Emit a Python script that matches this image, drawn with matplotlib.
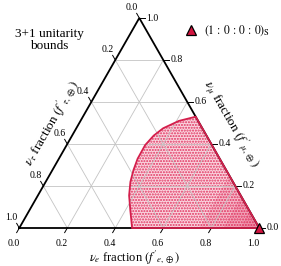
import numpy as np
import matplotlib.pyplot as plt
from matplotlib.patches import Polygon
from matplotlib.lines import Line2D

plt.rcParams['font.family'] = 'serif'
plt.rcParams['font.serif'] = ['Liberation Serif', 'DejaVu Serif']
plt.rcParams['mathtext.fontset'] = 'stix'
plt.rcParams['hatch.linewidth'] = 1.0

# left boundary of the 3+1 unitarity region, (nu_e, nu_mu) fractions
bound_e = [0.47, 0.42, 0.38, 0.353, 0.338, 0.328, 0.327, 0.34, 0.362, 0.41, 0.47]
bound_mu = [0.0, 0.085, 0.155, 0.22, 0.275, 0.33, 0.395, 0.44, 0.475, 0.51, 0.53]

# source point (1:0:0:0)_S -> (f_e, f_mu)
src_e = [1.0]
src_mu = [0.0]

tick_vals = [0.0, 0.2, 0.4, 0.6, 0.8, 1.0]
tick_labels = ['0.0', '0.2', '0.4', '0.6', '0.8', '1.0']
grid_vals = [0.2, 0.4, 0.6, 0.8]

# points pile up towards the source corner (nu_e fraction thresholds)
dense_levels = [0.75, 0.85, 0.92]

red = '#d41f4c'
pink = '#fad5df'
dots = '#e0325f'

h = np.sqrt(3) / 2


def xy(e, mu):
    e = np.asarray(e, dtype=float)
    mu = np.asarray(mu, dtype=float)
    return e + 0.5 * mu, h * mu


fig = plt.figure(figsize=(2.81, 2.66), dpi=100)
ax = fig.add_axes([0, 0, 1, 1])
sx = 240.0
sy = 210.0 / h
ax.set_xlim(-19.3 / sx, (281 - 19.3) / sx)
ax.set_ylim(-38 / sy, 228 / sy)
ax.axis('off')

# region
reg_e = bound_e + [1.0]
reg_mu = bound_mu + [0.0]
px, py = xy(reg_e, reg_mu)
pts = np.column_stack([px, py])
ax.add_patch(Polygon(pts, closed=True, facecolor=pink, edgecolor='none', zorder=1))
ax.add_patch(Polygon(pts, closed=True, facecolor='none', edgecolor=dots, lw=0,
                     hatch='......', zorder=2))
for lev in dense_levels:
    cx, cy = xy([lev, 1, lev], [0, 0, 1 - lev])
    ax.add_patch(Polygon(np.column_stack([cx, cy]), closed=True, facecolor=dots,
                         alpha=0.16, edgecolor='none', zorder=2))

# grid
for v in grid_vals:
    gx, gy = xy([v, v], [0, 1 - v])
    ax.plot(gx, gy, color='#c4c4c4', lw=0.6, zorder=3)
    gx, gy = xy([0, 1 - v], [v, v])
    ax.plot(gx, gy, color='#c4c4c4', lw=0.6, zorder=3)
    gx, gy = xy([1 - v, 0], [0, 1 - v])
    ax.plot(gx, gy, color='#c4c4c4', lw=0.6, zorder=3)

# triangle frame
fx, fy = xy([0, 1, 0, 0], [0, 0, 1, 0])
ax.plot(fx, fy, color='black', lw=1.3, zorder=4, solid_joinstyle='miter')

# region outline
ax.add_patch(Polygon(pts, closed=True, facecolor='none', edgecolor=red, lw=1.3, zorder=5))

# ticks and labels
L = 0.022
for v, lab in zip(tick_vals, tick_labels):
    # nu_e along bottom
    x0, y0 = xy(v, 0)
    ax.plot([x0, x0 - 0.5 * L], [y0, y0 - h * L], color='black', lw=0.7, zorder=4, clip_on=False)
    ax.text(x0 - 5.6 / sx, y0 - 15 / sy, lab, ha='center', va='center', fontsize=7)
    # nu_mu along right edge
    x0, y0 = xy(1 - v, v)
    ax.plot([x0, x0 + L], [y0, y0], color='black', lw=0.7, zorder=4, clip_on=False)
    ax.text(x0 + 7 / sx, y0, lab, ha='left', va='center', fontsize=7)
    # nu_tau along left edge
    x0, y0 = xy(0, 1 - v)
    ax.plot([x0, x0 - 0.5 * L], [y0, y0 + h * L], color='black', lw=0.7, zorder=4, clip_on=False)
    ax.text(x0 - 8 / sx, y0 + 10.5 / sy, lab, ha='center', va='center', fontsize=7)

# source marker
mx, my = xy(src_e, src_mu)
ax.plot(mx, my, '^', ms=7.5, mfc='#d2143f', mec='black', mew=0.9, zorder=6, clip_on=False)

# axis titles
ax.text((135 - 19.3) / sx, -(257 - 228) / sy, r"$\nu_e$ fraction $(f'_{e,\oplus})$",
        ha='center', va='center', fontsize=9)
ax.text((51 - 19.3) / sx, (228 - 123) / sy, r"$\nu_\tau$ fraction $(f'_{\tau,\oplus})$",
        ha='center', va='center', fontsize=9.5, rotation=60)
ax.text((232 - 19.3) / sx, (228 - 124) / sy, r"$\nu_\mu$ fraction $(f'_{\mu,\oplus})$",
        ha='center', va='center', fontsize=9.5, rotation=-60)

ax.text((49 - 19.3) / sx, (228 - 40) / sy, '3+1 unitarity\nbounds',
        ha='center', va='center', fontsize=9.5, linespacing=1.1)

handle = Line2D([], [], marker='^', ls='none', ms=7, mfc='#d2143f', mec='black', mew=0.9)
ax.legend([handle], [r'$(1\,:\,0\,:\,0\,:\,0)_{\rm S}$'], loc='center left', frameon=False,
          bbox_to_anchor=(184 / 281, 1 - 31 / 266), bbox_transform=fig.transFigure,
          fontsize=8.5, handletextpad=0.5, handlelength=1.2, borderpad=0, borderaxespad=0)

fig.savefig('out.png', dpi=100)
